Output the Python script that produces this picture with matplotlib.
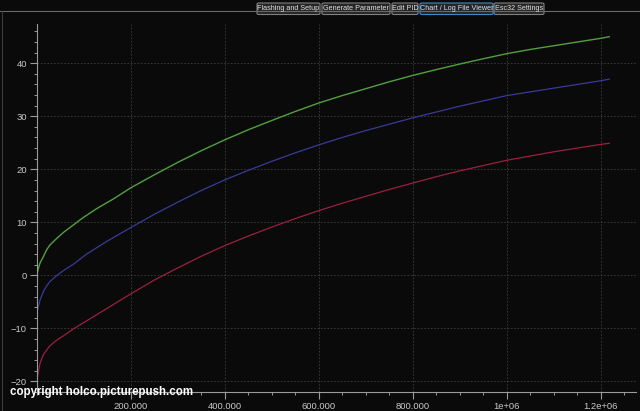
import numpy as np
import matplotlib
matplotlib.use('Agg')
import matplotlib.pyplot as plt
from matplotlib.ticker import MultipleLocator, FixedLocator, FuncFormatter
from matplotlib.patches import FancyBboxPatch

# werte (x in tausend)
green_x = [0, 3.5, 7, 14, 21, 28, 43, 57, 78, 99, 128, 163, 200, 250, 300, 350, 400, 450, 500, 550, 600,
           650, 700, 750, 800, 850, 900, 950, 1000, 1050, 1100, 1150, 1200, 1218]
green_y = [0, 1.3, 2.3, 3.5, 4.8, 5.7, 7.0, 8.1, 9.5, 10.9, 12.6, 14.4, 16.5, 18.95, 21.3, 23.5, 25.55, 27.45, 29.2, 30.9, 32.5,
           33.9, 35.2, 36.5, 37.7, 38.8, 39.85, 40.85, 41.8, 42.6, 43.3, 44.0, 44.7, 45.0]

blue_x = [0, 3.5, 7, 14, 21, 28, 43, 57, 78, 106, 149, 200, 250, 300, 350, 400, 450, 500, 550, 600,
          650, 700, 750, 800, 850, 900, 950, 1000, 1050, 1100, 1150, 1200, 1218]
blue_y = [-7.2, -5.9, -4.7, -3.1, -2.0, -1.2, 0, 0.9, 2.1, 4.0, 6.4, 9.0, 11.5, 13.8, 16.0, 18.0, 19.8, 21.5, 23.1, 24.6,
          26.0, 27.3, 28.5, 29.7, 30.8, 31.9, 32.9, 33.9, 34.6, 35.3, 36.0, 36.7, 37.0]

red_x = [0, 3.5, 7, 14, 21, 28, 43, 57, 78, 128, 200, 250, 300, 350, 400, 450, 500, 550, 600,
         650, 700, 750, 800, 850, 900, 950, 1000, 1050, 1100, 1150, 1200, 1218]
red_y = [-20, -18.2, -16.6, -15.0, -14.1, -13.3, -12.2, -11.4, -10.1, -7.4, -3.5, -0.9, 1.4, 3.6, 5.6, 7.4, 9.1, 10.7, 12.2,
         13.6, 14.9, 16.2, 17.4, 18.6, 19.7, 20.7, 21.7, 22.5, 23.3, 24.0, 24.7, 24.9]

x_ticks = [200000, 400000, 600000, 800000, 1000000, 1200000]
x_labels = ['200.000', '400.000', '600.000', '800.000', '1e+06', '1.2e+06']
y_ticks = [-20, -10, 0, 10, 20, 30, 40]

tabs = ['Flashing and Setup', 'Generate Parameter', 'Edit PID', 'Chart / Log File Viewer', 'Esc32 Settings']
tab_left = [257, 322, 392, 420, 494]
tab_right = [320, 390, 418, 493, 544]
selected_tab = 3

bg = '#0a0a0b'
fig = plt.figure(figsize=(6.4, 4.11), dpi=100, facecolor=bg)
ax = fig.add_axes([36.7/640, 1-392/411, (636-36.7)/640, (392-24)/411])
ax.set_facecolor(bg)

ax.plot(np.array(green_x)*1000, green_y, color='#52a03e', lw=1.0)
ax.plot(np.array(blue_x)*1000, blue_y, color='#3a3a98', lw=0.9)
ax.plot(np.array(red_x)*1000, red_y, color='#9a2040', lw=0.9)

ax.set_xlim(0, 1275000)
ax.set_ylim(-22.0, 47.4)

ax.xaxis.set_major_locator(FixedLocator(x_ticks))
ax.xaxis.set_major_formatter(FuncFormatter(lambda v, p: x_labels[x_ticks.index(int(round(v)))] if int(round(v)) in x_ticks else ''))
ax.xaxis.set_minor_locator(MultipleLocator(50000))
ax.yaxis.set_major_locator(FixedLocator(y_ticks))
ax.yaxis.set_minor_locator(MultipleLocator(2))

for s in ['top', 'right']:
    ax.spines[s].set_visible(False)
for s in ['left', 'bottom']:
    ax.spines[s].set_color('#9a9a9a')
    ax.spines[s].set_linewidth(0.8)

ax.tick_params(which='major', direction='out', length=5, width=0.8, color='#9a9a9a',
               labelcolor='#c8c8c8', labelsize=6.8, pad=2)
ax.tick_params(which='minor', direction='out', length=2.5, width=0.7, color='#9a9a9a')
for lab in ax.get_xticklabels() + ax.get_yticklabels():
    lab.set_family('Liberation Sans')

ax.grid(True, which='major', color='#3e3e3e', lw=0.6, linestyle=(0, (2, 2)))

# oberer balken mit tabs
fig.add_artist(plt.Line2D([0, 1], [1-11.3/411, 1-11.3/411], transform=fig.transFigure, color='#6a6a6a', lw=0.8))
fig.add_artist(plt.Line2D([2/640, 2/640], [0, 1-11.3/411], transform=fig.transFigure, color='#3a3a3a', lw=0.8))
for i, name in enumerate(tabs):
    l = tab_left[i] / 640
    w = (tab_right[i] - tab_left[i]) / 640
    b = 1 - 14.5/411
    h = 11.5/411
    ec = '#3a8cc4' if i == selected_tab else '#808080'
    box = FancyBboxPatch((l, b), w, h, boxstyle='round,pad=0,rounding_size=0.003',
                         transform=fig.transFigure, fc='#252525', ec=ec, lw=0.8)
    fig.add_artist(box)
    fig.text(l + w/2, b + h/2, name, ha='center', va='center', fontsize=5.2,
             color='#e0e0e0', family='Liberation Sans')

fig.text(10/640, 1-392/411, 'copyright holco.picturepush.com', ha='left', va='center',
         fontsize=8.3, fontweight='bold', color='white', family='Liberation Sans')

fig.savefig('out.png', dpi=100, facecolor=bg)
